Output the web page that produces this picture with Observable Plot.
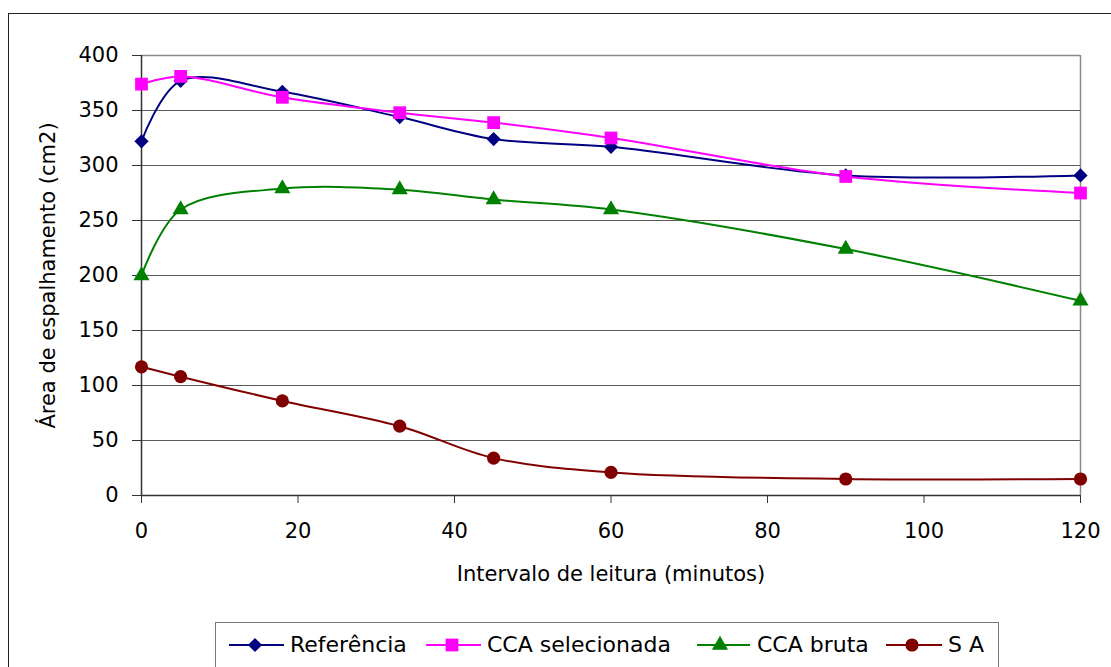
<!DOCTYPE html>
<html>
<head>
<meta charset="utf-8">
<script src="https://cdn.jsdelivr.net/npm/d3@7"></script>
<script src="https://cdn.jsdelivr.net/npm/@observablehq/plot@0.6"></script>
<style>
  html, body { margin: 0; padding: 0; background: #fff; }
  #wrap { position: relative; width: 1111px; height: 667px; overflow: hidden; background: #fff; font-family: "DejaVu Sans", sans-serif; }
  #frame { position: absolute; left: 8px; top: 13px; width: 1200px; height: 800px; border-left: 1.5px solid #222; border-top: 1.5px solid #222; }
  #chart { position: absolute; left: 0; top: 0; }
  #legend { position: absolute; left: 215px; top: 622px; width: 782px; height: 80px; border: 1.2px solid #777; background: #fff; }
  .item { position: absolute; top: 0; height: 44px; }
  .item svg { position: absolute; top: 12px; }
  .item span { position: absolute; top: 9px; font-size: 22px; white-space: nowrap; color: #000; }
</style>
</head>
<body>
<div id="wrap">
  <div id="frame"></div>
  <div id="chart"></div>
  <div id="legend"></div>
</div>
<script>
// ---- data ----
const minutes = [0, 5, 18, 33, 45, 60, 90, 120];
const referencia = [322, 377, 367, 344, 324, 317, 291, 291];
const ccaSelecionada = [374, 381, 362, 348, 339, 325, 290, 275];
const ccaBruta = [200, 260, 279, 278, 269, 260, 224, 177];
const semAdicao = [117, 108, 86, 63, 34, 21, 15, 15];

const seriesNames = ["Referência", "CCA selecionada", "CCA bruta", "S A"];
const seriesValues = [referencia, ccaSelecionada, ccaBruta, semAdicao];
const seriesColors = ["#000080", "#FF00FF", "#008000", "#800000"];
const seriesSymbols = ["diamond2", "square", "triangle", "circle"];
const seriesR = [6.4, 7.2, 6.0, 6.6];

const yTicks = [0, 50, 100, 150, 200, 250, 300, 350, 400];
const xTicks = [0, 20, 40, 60, 80, 100, 120];
const xLabel = "Intervalo de leitura (minutos)";
const yLabel = "Área de espalhamento (cm2)";

const rows = [];
seriesNames.forEach((s, i) => minutes.forEach((m, j) => rows.push({serie: s, minutos: m, area: seriesValues[i][j]})));

const marks = [
  Plot.ruleY(yTicks.filter(d => d > 0 && d < 400), {stroke: "#5a5a5a", strokeWidth: 1.2}),
  Plot.ruleY([400], {stroke: "#888", strokeWidth: 1.5}),
  Plot.ruleX([120], {stroke: "#888", strokeWidth: 1.5}),
  Plot.axisY({ticks: yTicks, tickSize: 9, tickPadding: 14, label: null, stroke: "#333", fontSize: 21}),
  Plot.axisX({ticks: xTicks, tickSize: 8, tickPadding: 20, label: null, stroke: "#333", fontSize: 21}),
  Plot.ruleX([0], {stroke: "#333", strokeWidth: 1.5}),
  Plot.ruleY([0], {stroke: "#333", strokeWidth: 1.5})
];
seriesNames.forEach((s, i) => {
  const data = rows.filter(d => d.serie === s);
  marks.push(Plot.line(data, {x: "minutos", y: "area", stroke: seriesColors[i], strokeWidth: 2, curve: "catmull-rom"}));
});
seriesNames.forEach((s, i) => {
  const data = rows.filter(d => d.serie === s);
  marks.push(Plot.dot(data, {x: "minutos", y: "area", fill: seriesColors[i], stroke: "none", symbol: () => seriesSymbols[i], r: seriesR[i]}));
});
marks.push(Plot.text([yLabel], {text: d => d, frameAnchor: "left", dx: -93, rotate: -90, textAnchor: "middle", lineAnchor: "middle", fontSize: 21, fill: "#000"}));
marks.push(Plot.text([xLabel], {text: d => d, frameAnchor: "bottom", dy: 79, textAnchor: "middle", lineAnchor: "middle", fontSize: 21, fill: "#000"}));

const chart = Plot.plot({
  width: 1111,
  height: 610,
  marginLeft: 141,
  marginRight: 31,
  marginTop: 55,
  marginBottom: 115,
  x: {domain: [0, 120]},
  y: {domain: [0, 400]},
  symbol: {type: "identity"},
  style: {fontFamily: "DejaVu Sans", fontSize: "21px", background: "transparent", color: "#000", overflow: "visible"},
  marks
});
document.getElementById("chart").appendChild(chart);

// ---- legend ----
const legend = document.getElementById("legend");
const legendLeft = 215;
const itemPos = [
  {line0: 228, line1: 283, mark: 254, text: 289},
  {line0: 425, line1: 480, mark: 451, text: 486},
  {line0: 696, line1: 749, mark: 719, text: 756},
  {line0: 885, line1: 941, mark: 911, text: 947}
];
const d3sym = {diamond2: d3.symbolDiamond2, square: d3.symbolSquare, triangle: d3.symbolTriangle, circle: d3.symbolCircle};
seriesNames.forEach((s, i) => {
  const p = itemPos[i];
  const div = document.createElement("div");
  div.className = "item";
  div.style.left = (p.line0 - legendLeft) + "px";
  const w = p.line1 - p.line0;
  const path = d3.symbol(d3sym[seriesSymbols[i]], Math.PI * seriesR[i] * seriesR[i])();
  div.innerHTML = `<svg width="${w}" height="20" style="overflow:visible"><line x1="0" x2="${w}" y1="10" y2="10" stroke="${seriesColors[i]}" stroke-width="2"/><path d="${path}" transform="translate(${p.mark - p.line0},10)" fill="${seriesColors[i]}"/></svg><span style="left:${p.text - p.line0}px">${s}</span>`;
  legend.appendChild(div);
});
</script>
</body>
</html>
